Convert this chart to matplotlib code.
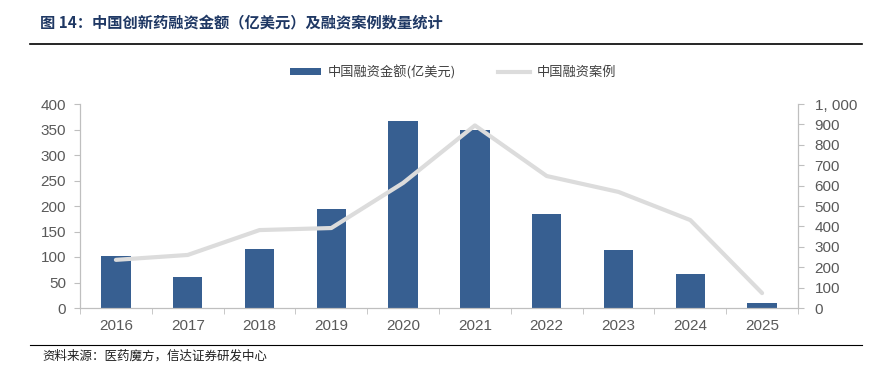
import matplotlib.pyplot as plt
import numpy as np
from matplotlib.lines import Line2D
from matplotlib.patches import Patch

plt.rcParams['font.family'] = ['Noto Sans CJK SC', 'DejaVu Sans']

# data
years = ['2016', '2017', '2018', '2019', '2020', '2021', '2022', '2023', '2024', '2025']
amount = [102, 61, 116, 195, 367, 349, 184, 114, 66, 10]      # 亿美元
cases = [236, 260, 382, 392, 613, 895, 647, 569, 431, 73]     # 案例数

bar_color = '#375F91'
line_color = '#DCDCDC'
tick_color = '#595959'
axis_color = '#BFBFBF'

fig = plt.figure(figsize=(8.78, 3.66), dpi=100)
ax = fig.add_axes([80 / 878, 1 - 308 / 366, 718 / 878, 204 / 366])
ax2 = ax.twinx()

x = np.arange(len(years))
ax.bar(x, amount, width=0.41, color=bar_color, zorder=2)
ax2.plot(x, cases, color=line_color, linewidth=3, solid_capstyle='round', zorder=3)

ax.set_xlim(-0.5, len(years) - 0.5)
ax.set_ylim(0, 400)
ax.set_yticks(np.arange(0, 401, 50))
ax2.set_ylim(0, 1000)
ax2.set_yticks(np.arange(0, 1001, 100))
ax2.set_yticklabels(['{:,}'.format(v).replace(',', ', ') for v in range(0, 1001, 100)])

ax.set_xticks(x)
ax.set_xticklabels(years)
ax.set_xticks(np.arange(-0.5, len(years), 1), minor=True)
ax.tick_params(axis='x', which='major', length=0, pad=8, labelsize=11, labelcolor=tick_color)
ax.tick_params(axis='x', which='minor', length=4, color=axis_color, direction='out')
ax.tick_params(axis='y', length=4, color=axis_color, labelsize=11, labelcolor=tick_color, pad=6)
ax2.tick_params(axis='y', length=4, color=axis_color, labelsize=11, labelcolor=tick_color, pad=8)

for a in (ax, ax2):
    a.spines['top'].set_visible(False)
    a.spines['left'].set_color(axis_color)
    a.spines['right'].set_color(axis_color)
    a.spines['bottom'].set_color(axis_color)
for lab in ax.get_xticklabels() + ax.get_yticklabels() + ax2.get_yticklabels():
    lab.set_family(['Liberation Sans', 'DejaVu Sans'])

# legend
handles = [Patch(facecolor=bar_color, label='中国融资金额(亿美元)'),
           Line2D([0], [0], color=line_color, linewidth=3, label='中国融资案例')]
fig.legend(handles=handles, loc='center', bbox_to_anchor=(453 / 878, 1 - 72 / 366), ncol=2,
           frameon=False, fontsize=9.5, handlelength=2.4, handleheight=0.4,
           handletextpad=0.5, columnspacing=3.2, labelcolor='#404040')

# title and frame lines
fig.text(40 / 878, 1 - 22 / 366, '图 14：中国创新药融资金额（亿美元）及融资案例数量统计',
         fontsize=11, fontweight='bold', color='#1F3864', va='center', ha='left')
fig.add_artist(Line2D([30 / 878, 862 / 878], [1 - 44 / 366] * 2, color='black', linewidth=1.2))
fig.add_artist(Line2D([30 / 878, 862 / 878], [1 - 345 / 366] * 2, color='black', linewidth=0.8))
fig.text(42 / 878, 1 - 356 / 366, '资料来源：医药魔方，信达证券研发中心',
         fontsize=9, style='italic', color='#202020', va='center', ha='left')

fig.savefig('out.png', dpi=100)
